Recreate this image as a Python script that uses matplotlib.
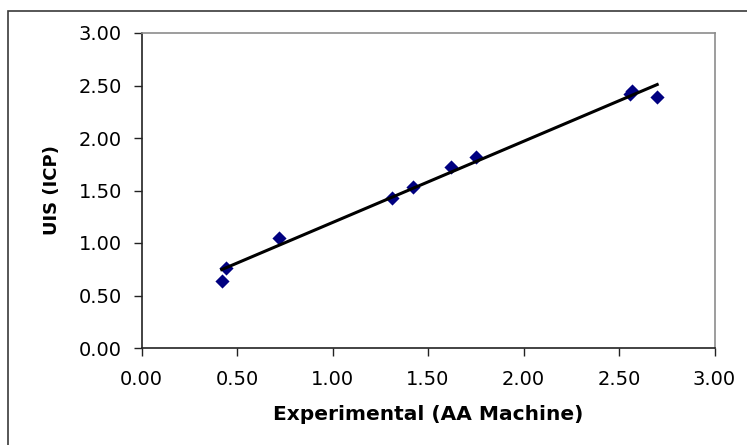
import matplotlib
matplotlib.use("Agg")
import matplotlib.pyplot as plt
import numpy as np
from matplotlib.patches import Rectangle

# AA machine readings vs. ICP readings
aa_values = [0.42, 0.44, 0.72, 1.31, 1.42, 1.62, 1.75, 2.56, 2.57, 2.70]
icp_values = [0.64, 0.76, 1.05, 1.43, 1.53, 1.72, 1.82, 2.42, 2.45, 2.39]
ticks = [0.0, 0.5, 1.0, 1.5, 2.0, 2.5, 3.0]

plt.rcParams['font.family'] = ['DejaVu Sans']

W, H = 747, 445
fig = plt.figure(figsize=(W / 100, H / 100), dpi=100)

# outer chart border (runs off the right and bottom edges)
fig.patches.append(Rectangle((8 / W, 0 - 0.02), 1.0, 1 - 11 / H + 0.02,
                             transform=fig.transFigure, fill=False,
                             edgecolor='#3a3a3a', lw=1.2))

left, right, top, bottom = 141.5, 714.5, 33, 348
ax = fig.add_axes([left / W, 1 - bottom / H, (right - left) / W, (bottom - top) / H])

x = np.array(aa_values)
y = np.array(icp_values)
ax.scatter(x, y, marker='D', s=52, color='#000080', zorder=3, linewidths=0)

# linear trendline across the data range
k, b = np.polyfit(x, y, 1)
xs = np.array([x.min(), x.max()])
ax.plot(xs, k * xs + b, color='black', lw=2.2, zorder=4)

ax.set_xlim(0, 3)
ax.set_ylim(0, 3)
ax.set_xticks(ticks)
ax.set_yticks(ticks)
ax.set_xticklabels([f"{t:.2f}" for t in ticks])
ax.set_yticklabels([f"{t:.2f}" for t in ticks])
ax.tick_params(direction='out', length=6, width=1, labelsize=14, color='#222222')
ax.tick_params(axis='x', pad=10)
ax.tick_params(axis='y', pad=8)

for side in ('left', 'bottom'):
    ax.spines[side].set_color('#222222')
    ax.spines[side].set_linewidth(1.2)
for side in ('top', 'right'):
    ax.spines[side].set_color('#8c8c8c')
    ax.spines[side].set_linewidth(1.2)

ax.set_xlabel("Experimental (AA Machine)", fontsize=14.5, fontweight='bold', labelpad=11)
ax.set_ylabel("UIS (ICP)", fontsize=13, fontweight='bold', labelpad=13)

fig.savefig("out.png", dpi=100)
